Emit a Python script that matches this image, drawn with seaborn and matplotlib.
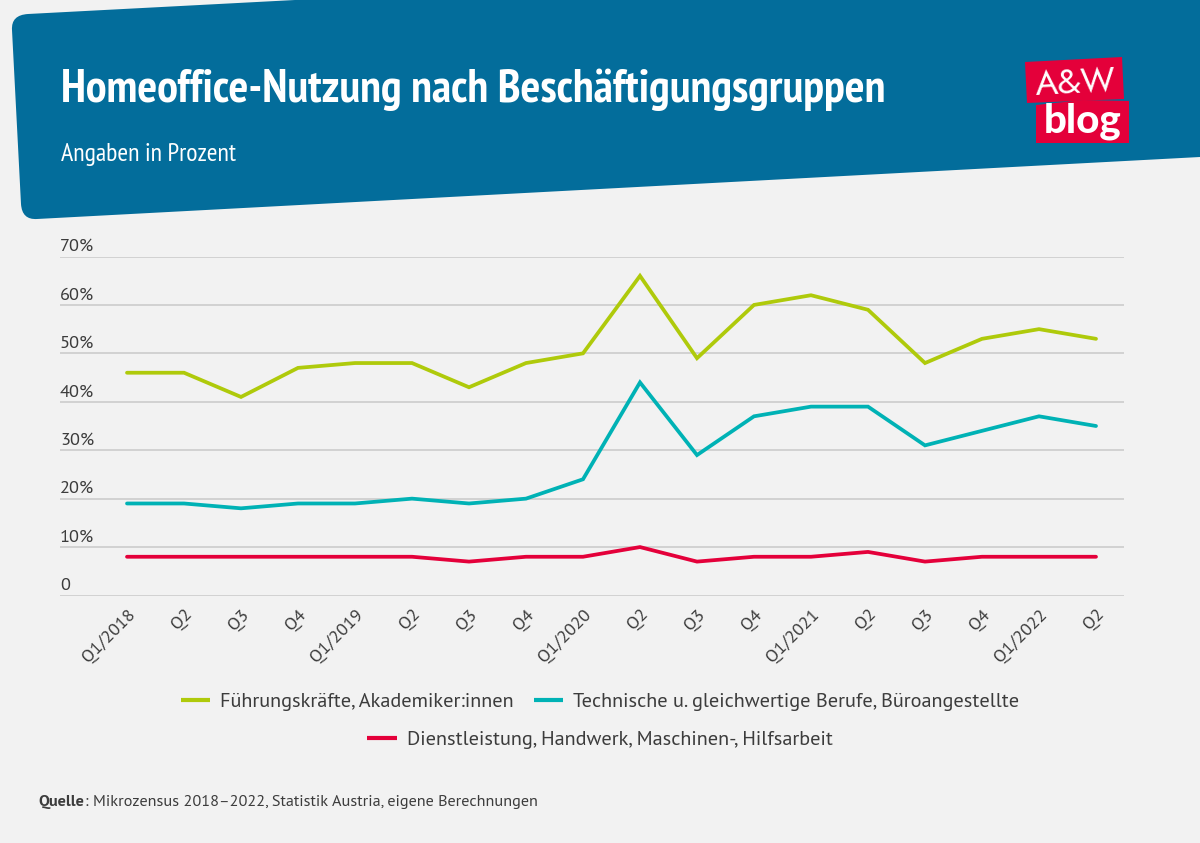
import matplotlib
matplotlib.use('Agg')
import matplotlib.pyplot as plt
from matplotlib.patches import PathPatch, Polygon
from matplotlib.path import Path
from matplotlib.transforms import Affine2D, ScaledTranslation
import pandas as pd
import seaborn as sns

# Daten
quartale = ['Q1/2018', 'Q2', 'Q3', 'Q4', 'Q1/2019', 'Q2', 'Q3', 'Q4', 'Q1/2020',
            'Q2', 'Q3', 'Q4', 'Q1/2021', 'Q2', 'Q3', 'Q4', 'Q1/2022', 'Q2']
fuehrung = [46, 46, 41, 47, 48, 48, 43, 48, 50, 66, 49, 60, 62, 59, 48, 53, 55, 53]
technik = [19, 19, 18, 19, 19, 20, 19, 20, 24, 44, 29, 37, 39, 39, 31, 34, 37, 35]
dienst = [8, 8, 8, 8, 8, 8, 7, 8, 8, 10, 7, 8, 8, 9, 7, 8, 8, 8]
y_ticks = [0, 10, 20, 30, 40, 50, 60, 70]
y_labels = ['0', '10%', '20%', '30%', '40%', '50%', '60%', '70%']
namen = ['Führungskräfte, Akademiker:innen',
         'Technische u. gleichwertige Berufe, Büroangestellte',
         'Dienstleistung, Handwerk, Maschinen-, Hilfsarbeit']

BG = '#f2f2f2'
BLAU = '#036d9b'
ROT = '#e4003a'
TEXT = '#3c3c3c'
farben = {namen[0]: '#afca0b', namen[1]: '#00b2b5', namen[2]: ROT}

W, H = 1200, 843

sns.set_theme(style='white')
plt.rcParams['font.family'] = ['PT Sans', 'Lato', 'DejaVu Sans']
SCHMAL = ['PT Sans Narrow', 'Lato', 'DejaVu Sans']
LOGO = ['Jost', 'Lato', 'DejaVu Sans']

fig = plt.figure(figsize=(12, 8.43), dpi=100, facecolor=BG)
px = Affine2D().scale(1 / W, -1 / H).translate(0, 1) + fig.transFigure

# Kopfbalken
codes = [Path.MOVETO, Path.LINETO, Path.LINETO, Path.LINETO, Path.CURVE3, Path.CURVE3,
         Path.LINETO, Path.CURVE3, Path.CURVE3, Path.LINETO, Path.CLOSEPOLY]
verts = [(295, 0), (1200, 0), (1200, 157), (37, 219), (22, 220), (21, 204),
         (12, 30), (11, 15), (28, 14), (295, 0), (295, 0)]
fig.add_artist(PathPatch(Path(verts, codes), fc=BLAU, ec='none', transform=px))

fig.text(61 / W, 1 - 90 / H, 'Homeoffice-Nutzung nach Beschäftigungsgruppen', color='white',
         fontsize=33.5, fontweight='bold', family=SCHMAL, va='center')
fig.text(61 / W, 1 - 155 / H, 'Angaben in Prozent', color='white', fontsize=18.6,
         family=SCHMAL, va='center')

# Logo
fig.add_artist(Polygon([(1025, 62), (1122, 57), (1124, 99), (1027, 103)], fc=ROT, ec='none', transform=px))
fig.add_artist(Polygon([(1036, 105), (1083, 100), (1129, 101), (1129, 143), (1036, 143)], fc=ROT, ec='none', transform=px))
fig.text(1076 / W, 1 - 83 / H, 'A&W', color='white', fontsize=25, rotation=3,
         ha='center', va='center', family=LOGO)
fig.text(1083 / W, 1 - 121 / H, 'blog', color='white', fontsize=29, fontweight='black',
         ha='center', va='center', family=['Lato', 'DejaVu Sans'])

# Diagramm
ax = fig.add_axes([60 / W, 1 - 595.5 / H, (1124 - 60) / W, (595.5 - 256.5) / H], facecolor='none')

df = pd.DataFrame({
    'q': list(range(len(quartale))) * 3,
    'wert': fuehrung + technik + dienst,
    'gruppe': [namen[0]] * 18 + [namen[1]] * 18 + [namen[2]] * 18,
})
sns.lineplot(data=df, x='q', y='wert', hue='gruppe', palette=farben, linewidth=2.7,
             ax=ax, legend=False, solid_joinstyle='miter')

ax.set_xlim((60 - 127) / 57, (1124 - 127) / 57)
ax.set_ylim(0, 70)
ax.set_xlabel('')
ax.set_ylabel('')
ax.set_yticks(y_ticks, y_labels)
ax.set_xticks(range(len(quartale)), quartale)
ax.yaxis.grid(True, color='#c9c9c9', linewidth=1.1)
ax.set_axisbelow(True)
sns.despine(ax=ax, left=True, top=True, right=True, bottom=True)
ax.tick_params(axis='y', length=0, pad=0, labelsize=13.2, labelcolor=TEXT)
ax.tick_params(axis='x', length=0, pad=8, labelsize=13, labelcolor=TEXT)
hoch = ScaledTranslation(0, 1.5 / 100, fig.dpi_scale_trans)
for tick in ax.yaxis.get_major_ticks():
    tick.label1.set_ha('left')
    tick.label1.set_va('bottom')
    tick.label1.set_transform(tick.label1.get_transform() + hoch)
for lab in ax.get_xticklabels():
    lab.set_rotation(45)
    lab.set_ha('right')
    lab.set_rotation_mode('anchor')

# Legende, zwei zentrierte Zeilen
griffe = [plt.Line2D([], [], color=farben[n], linewidth=3, solid_capstyle='butt') for n in namen]
leg1 = fig.legend(griffe[:2], namen[:2], ncol=2, loc='center', bbox_to_anchor=(600 / W, 1 - 702 / H),
                  frameon=False, fontsize=14.55, labelcolor=TEXT, handlelength=1.45, handletextpad=0.5,
                  columnspacing=1.0)
leg2 = fig.legend(griffe[2:], namen[2:], loc='center', bbox_to_anchor=(600 / W, 1 - 740 / H),
                  frameon=False, fontsize=14.55, labelcolor=TEXT, handlelength=1.45, handletextpad=0.5)

# Quelle
fig.text(38 / W, 1 - 802 / H, 'Quelle', color=TEXT, fontsize=11.7, fontweight='bold', va='center')
fig.text(85 / W, 1 - 802 / H, ': Mikrozensus 2018–2022, Statistik Austria, eigene Berechnungen',
         color=TEXT, fontsize=11.7, va='center')

fig.savefig('out.png', dpi=100, facecolor=BG)
